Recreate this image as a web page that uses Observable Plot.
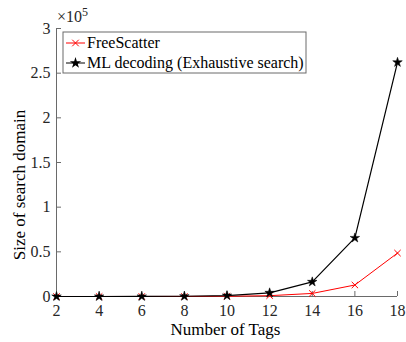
<!DOCTYPE html>
<html><head><meta charset="utf-8">
<script src="https://cdn.jsdelivr.net/npm/d3@7"></script>
<script src="https://cdn.jsdelivr.net/npm/@observablehq/plot@0.6"></script>
<style>body{margin:0;background:#fff}svg, svg text{font-family:"Liberation Serif","Times New Roman","DejaVu Serif",serif !important}</style>
</head><body><div id="chart"></div>
<script>
const tags = [2,4,6,8,10,12,14,16,18];
const freeScatter = [2,6,20,70,252,924,3432,12870,48620];
const mlDecoding = [4,16,64,256,1024,4096,16384,65536,262144];
const xTicks = [2,4,6,8,10,12,14,16,18];
const yTicks = [0,50000,100000,150000,200000,250000,300000];
const seriesNames = ["FreeScatter","ML decoding (Exhaustive search)"];
const colors = ["#ff0000","#000000"];

const data = [];
tags.forEach((t,i)=>{
  data.push({tags:t, value:freeScatter[i], s:seriesNames[0]});
  data.push({tags:t, value:mlDecoding[i], s:seriesNames[1]});
});

const W=406, H=342, ml=56, mr=9, mt=28, mb=46;
const textColor="#262626";
const lineColor="#6a6a6a";
const plot = Plot.plot({
  width:W, height:H, marginLeft:ml, marginRight:mr, marginTop:mt, marginBottom:mb,
  style:{fontSize:"16px", color:textColor, background:"#fff"},
  x:{domain:[2,18]},
  y:{domain:[0,300000]},
  marks:[
    Plot.ruleX([2],{stroke:lineColor, strokeWidth:1}),
    Plot.ruleY([0],{stroke:lineColor, strokeWidth:1}),
    Plot.axisX({ticks:xTicks, tickSize:-5, tickPadding:13, label:null, fontSize:16, stroke:lineColor, fill:textColor}),
    Plot.axisY({ticks:yTicks, tickSize:-5, tickPadding:11, label:null, fontSize:16, tickFormat:d=>d/1e5, stroke:lineColor, fill:textColor}),
    Plot.line(data.filter(d=>d.s===seriesNames[0]),{x:"tags",y:"value",stroke:colors[0],strokeWidth:1}),
    Plot.dot(data.filter(d=>d.s===seriesNames[0]),{x:"tags",y:"value",symbol:"times",stroke:colors[0],r:3,strokeWidth:1}),
    Plot.line(data.filter(d=>d.s===seriesNames[1]),{x:"tags",y:"value",stroke:colors[1],strokeWidth:1.2}),
    Plot.dot(data.filter(d=>d.s===seriesNames[1]),{x:"tags",y:"value",symbol:"star",fill:colors[1],stroke:colors[1],r:3,strokeWidth:0.5})
  ]
});
document.getElementById("chart").appendChild(plot);

const svg = d3.select(plot);
function txt(sel){ return sel.attr("text-anchor","start"); }
// axis labels
txt(svg.append("text")).attr("x",225.5).attr("y",335).attr("text-anchor","middle")
  .attr("font-size",17).attr("fill","#000").text("Number of Tags");
txt(svg.append("text")).attr("transform","translate(25,185) rotate(-90)").attr("text-anchor","middle")
  .attr("font-size",17).attr("fill","#000").text("Size of search domain");
// exponent
const ex = txt(svg.append("text")).attr("x",ml+1).attr("y",22).attr("font-size",16).attr("fill",textColor);
ex.append("tspan").text("\u00d710");
ex.append("tspan").attr("dy",-6).attr("font-size",12).text("5");
// legend
const lg = svg.append("g");
lg.append("rect").attr("x",63).attr("y",32).attr("width",243).attr("height",41)
  .attr("fill","#fff").attr("stroke",lineColor).attr("stroke-width",1);
const sy=[43,63];
seriesNames.forEach((n,i)=>{
  lg.append("line").attr("x1",66).attr("x2",85).attr("y1",sy[i]).attr("y2",sy[i]).attr("stroke",colors[i]).attr("stroke-width",1);
  txt(lg.append("text")).attr("x",87).attr("y",sy[i]+5).attr("font-size",16).attr("fill","#000").text(n);
});
lg.append("path").attr("d",d3.symbol(d3.symbolTimes,30)()).attr("transform",`translate(75.5,${sy[0]})`).attr("stroke",colors[0]).attr("fill","none");
lg.append("path").attr("d",d3.symbol(d3.symbolStar,40)()).attr("transform",`translate(75.5,${sy[1]})`).attr("fill","#000");
</script></body></html>
